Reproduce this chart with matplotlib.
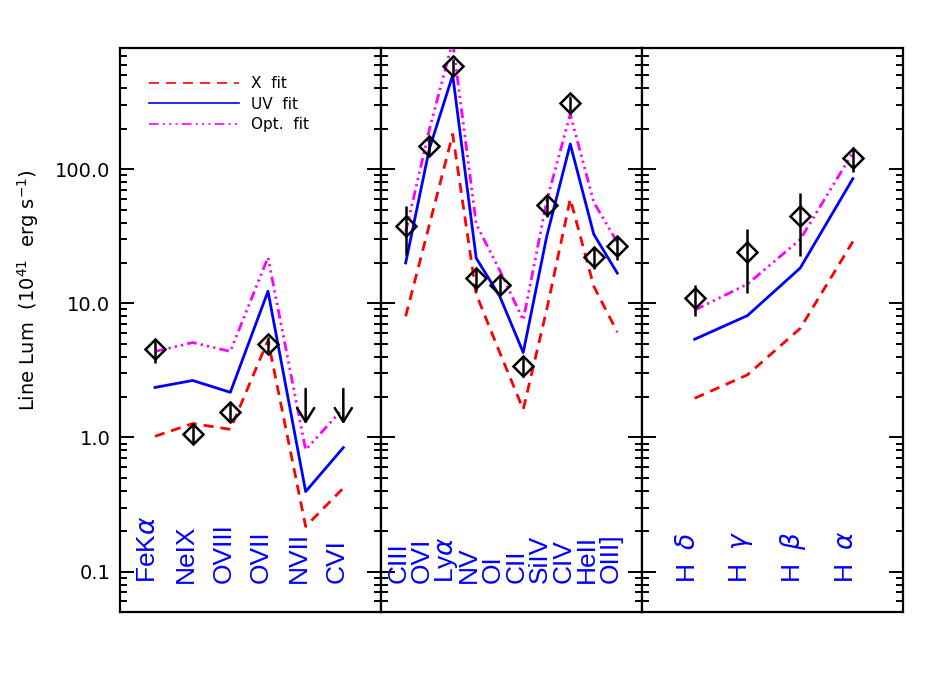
import numpy as np
import matplotlib
matplotlib.use('Agg')
import matplotlib.pyplot as plt
from matplotlib.lines import Line2D

# ---- data ----
# X-ray panel
x_lines = ['FeK$\\alpha$', 'NeIX', 'OVIII', 'OVII', 'NVII', 'CVI']
x_obs = [4.6, 1.07, 1.56, 4.94, np.nan, np.nan]
x_lo = [3.6, 0.89, 1.36, 4.3, np.nan, np.nan]
x_hi = [5.4, 1.23, 1.82, 5.6, np.nan, np.nan]
x_upper = [np.nan, np.nan, np.nan, np.nan, 2.3, 2.3]
x_xfit = [1.02, 1.27, 1.15, 5.3, 0.217, 0.42]
x_uvfit = [2.36, 2.66, 2.17, 12.3, 0.395, 0.84]
x_optfit = [4.38, 5.1, 4.38, 22.0, 0.81, 1.65]

# UV panel
uv_lines = ['CIII', 'OVI', 'Ly$\\alpha$', 'NV', 'OI', 'CII', 'SiIV', 'CIV', 'HeII', 'OIII]']
uv_obs = [38, 148, 587, 15.4, 13.8, 3.42, 53.8, 311, 22.2, 26.6]
uv_lo = [23, 125, 494, 12.3, 11.5, 2.8, 43.9, 271, 18, 21]
uv_hi = [53, 173, 661, 18, 16.5, 3.95, 63, 351, 26, 31]
uv_xfit = [8.0, 38, 182, 11.7, 4.3, 1.62, 9.0, 60, 13.4, 6.1]
uv_uvfit = [20, 140, 502, 21.7, 11.3, 4.3, 31.6, 154, 32.7, 16.8]
uv_optfit = [34, 195, 900, 38.9, 17.6, 7.5, 58, 257, 56.7, 28.5]

# optical panel
opt_lines = ['H  $\\delta$', 'H  $\\gamma$', 'H  $\\beta$', 'H  $\\alpha$']
opt_obs = [10.9, 24.2, 45, 121]
opt_lo = [8.1, 12, 22.4, 95]
opt_hi = [13.7, 35.6, 67, 146]
opt_xfit = [1.96, 2.93, 6.5, 28.9]
opt_uvfit = [5.4, 8.1, 18.3, 85]
opt_optfit = [8.9, 13.9, 29.9, 133]

ytick_vals = [0.1, 1.0, 10.0, 100.0]
ytick_labels = ['0.1', '1.0', '10.0', '100.0']
legend_labels = ['X  fit', 'UV  fit', 'Opt.  fit']

RED_LS = (0, (3.6, 2.5))
MAG_LS = (0, (3.5, 1.5, 0.8, 1.5, 0.8, 1.5, 0.8, 1.5))
LW = 2.0
LABEL_Y = 0.082


def draw_panel(ax, names, obs, lo, hi, xfit, uvfit, optfit, upper=None):
    n = len(names)
    xs = np.arange(n)
    ax.plot(xs, xfit, color='red', lw=LW, ls=RED_LS)
    ax.plot(xs, uvfit, color='blue', lw=LW, ls='-')
    ax.plot(xs, optfit, color='magenta', lw=LW, ls=MAG_LS)

    obs = np.asarray(obs, float)
    lo = np.asarray(lo, float)
    hi = np.asarray(hi, float)
    ok = ~np.isnan(obs)
    ax.errorbar(xs[ok], obs[ok], yerr=[obs[ok] - lo[ok], hi[ok] - obs[ok]],
                fmt='D', ms=10, mfc='none', mec='k', mew=1.8,
                ecolor='k', elinewidth=1.8, capsize=0, zorder=5)

    # upper limits drawn as downward arrows
    if upper is not None:
        for xi, u in zip(xs, upper):
            if np.isnan(u):
                continue
            ax.annotate('', xy=(xi, u / 1.83), xytext=(xi, u),
                        arrowprops=dict(arrowstyle='->,head_length=0.45,head_width=0.28',
                                        color='k', lw=1.8, shrinkA=0, shrinkB=0,
                                        mutation_scale=22))

    for xi, name in zip(xs, names):
        ax.text(xi, LABEL_Y, name, rotation=90, rotation_mode='anchor',
                ha='left', va='baseline', color='blue', fontsize=19,
                family='Liberation Sans')

    ax.set_yscale('log')
    ax.set_ylim(0.05, 800)
    ax.set_xticks([])
    ax.tick_params(axis='y', which='both', direction='in', left=True, right=True,
                   width=1.4)
    ax.tick_params(axis='y', which='major', length=10)
    ax.tick_params(axis='y', which='minor', length=5)
    for s in ax.spines.values():
        s.set_linewidth(1.6)


fig, axes = plt.subplots(1, 3, figsize=(9.5, 7), dpi=100, sharey=True)
plt.subplots_adjust(left=0.1263, right=0.9505, bottom=0.1257, top=0.9314, wspace=0)

draw_panel(axes[0], x_lines, x_obs, x_lo, x_hi, x_xfit, x_uvfit, x_optfit, upper=x_upper)
draw_panel(axes[1], uv_lines, uv_obs, uv_lo, uv_hi, uv_xfit, uv_uvfit, uv_optfit)
draw_panel(axes[2], opt_lines, opt_obs, opt_lo, opt_hi, opt_xfit, opt_uvfit, opt_optfit)

axes[0].set_xlim(-0.93, 6.0)
axes[1].set_xlim(-1.05, 10.05)
axes[2].set_xlim(-1.0, 3.95)

axes[0].set_yticks(ytick_vals)
axes[0].set_yticklabels(ytick_labels, fontsize=14)
axes[0].tick_params(axis='y', which='major', pad=7)

# legend with thinner lines, same dash lengths in pixels
handles = [
    Line2D([], [], color='red', lw=1.2, ls=(0, (6.0, 4.2))),
    Line2D([], [], color='blue', lw=1.2, ls='-'),
    Line2D([], [], color='magenta', lw=1.2, ls=(0, (5.8, 2.5, 1.3, 2.5, 1.3, 2.5, 1.3, 2.5))),
]
axes[0].legend(handles, legend_labels, loc='upper left', bbox_to_anchor=(0.11, 0.95),
               frameon=False, fontsize=11, handlelength=5.9, handletextpad=0.8,
               labelspacing=0.35, borderpad=0, borderaxespad=0)

fig.text(0.03, 0.586, 'Line Lum  (10$^{41}$  erg s$^{-1}$)', rotation=90,
         ha='center', va='center', fontsize=14)

plt.savefig('out.png', dpi=100)
